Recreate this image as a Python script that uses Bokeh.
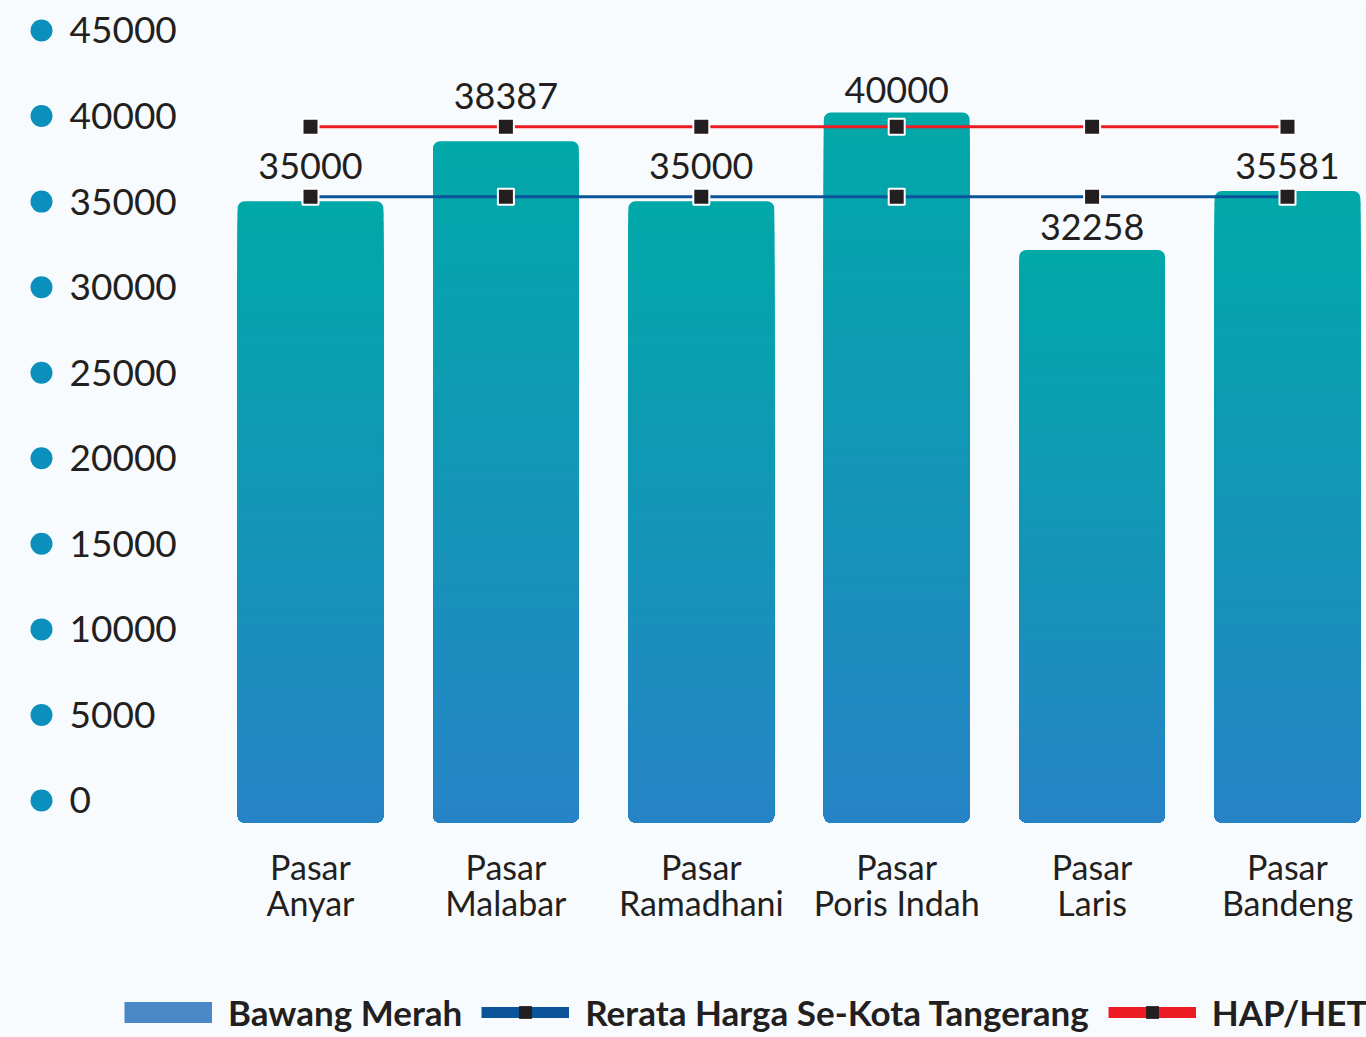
from bokeh.plotting import figure
from bokeh.models import ColumnDataSource, Range1d, Legend, LegendItem
from bokeh.core.properties import value
from bokeh.embed import file_html
from bokeh.resources import INLINE

# ---------------- data ----------------
categories = ["Pasar\nAnyar", "Pasar\nMalabar", "Pasar\nRamadhani",
              "Pasar\nPoris Indah", "Pasar\nLaris", "Pasar\nBandeng"]
bawang_merah = [35000, 38387, 35000, 40000, 32258, 35581]
rerata_kota = [35250, 35250, 35250, 35250, 35250, 35250]
hap_het = [39200, 39200, 39200, 39200, 39200, 39200]
y_ticks = [0, 5000, 10000, 15000, 20000, 25000, 30000, 35000, 40000, 45000]
y_tick_labels = ["0", "5000", "10000", "15000", "20000", "25000",
                 "30000", "35000", "40000", "45000"]

# ---------------- style ----------------
BG = "#f8fbfe"
TXT = "#231f20"
TOP_C = (0, 168, 168)
BOT_C = (38, 132, 198)
BLUE = "#0b5499"
RED = "#ed1c24"
DOT = "#0b8fbd"
FONT = "Lato"
BAR_W = 0.746


def mix(frac):
    r = [round(BOT_C[j] + (TOP_C[j] - BOT_C[j]) * frac) for j in range(3)]
    return "#%02x%02x%02x" % tuple(r)


xs = list(range(len(categories)))

p = figure(width=1366, height=1037,
           x_range=Range1d(-1.5865, 5.4043), y_range=Range1d(-12113, 46310),
           x_axis_location=None, y_axis_location=None,
           toolbar_location=None, output_backend="svg",
           min_border=0, background_fill_color=BG, border_fill_color=BG,
           outline_line_color=None)
for g in p.grid:
    g.visible = False
p.extra_y_ranges = {"ylab": Range1d(-13851, 46753)}

# ---------------- gradient bars ----------------
N = 60
p.vbar(x=xs, top=bawang_merah, bottom=0, width=BAR_W,
       fill_color=mix(1.0), line_color=None, border_radius=7)
sx, stop, scol = [], [], []
for i, v in enumerate(bawang_merah):
    for k in range(N - 1, 0, -1):
        sx.append(i)
        stop.append(v * k / N)
        scol.append(mix((k - 0.5) / N))
p.vbar(source=ColumnDataSource(dict(x=sx, top=stop, c=scol)),
       x="x", top="top", bottom=0, width=BAR_W,
       fill_color="c", line_color=None, border_radius=(0, 0, 7, 7))

# ---------------- lines ----------------
p.line(xs, hap_het, line_color=RED, line_width=3)
p.line(xs, rerata_kota, line_color=BLUE, line_width=3)
p.scatter(xs, hap_het, marker="square", size=16, fill_color=TXT,
          line_color="white", line_width=2)
p.scatter(xs, rerata_kota, marker="square", size=16, fill_color=TXT,
          line_color="white", line_width=2)

# ---------------- bar value labels ----------------
anchors = []
for i, v in enumerate(bawang_merah):
    lifts = [l[i] + 450 for l in (rerata_kota, hap_het) if v - 450 < l[i] < v + 2300]
    anchors.append(max([v] + lifts))
p.text(x=xs, y=anchors, text=[str(v) for v in bawang_merah],
       text_align="center", text_baseline="alphabetic", y_offset=-23,
       text_font=value(FONT), text_font_size="36px", text_color=TXT)

# ---------------- category labels ----------------
p.text(x=xs, y=[0] * len(xs), text=categories, text_align="center",
       text_baseline="middle", y_offset=62, text_line_height=0.9,
       text_font=value(FONT), text_font_size="34px", text_color=TXT)

# ---------------- y tick labels with dots ----------------
p.scatter(x=[-1.3767] * len(y_ticks), y=y_ticks, y_range_name="ylab",
          size=22, fill_color=DOT, line_color=None)
p.text(x=[-1.2334] * len(y_ticks), y=y_ticks, text=y_tick_labels,
       y_range_name="ylab", text_align="left", text_baseline="middle",
       text_font=value(FONT), text_font_size="37px", text_color=TXT)

# ---------------- legend ----------------
nan = float("nan")
lg_bar = p.line([nan], [nan], line_color="#4a88c8", line_width=21)
lg_avg_l = p.line([nan], [nan], line_color=BLUE, line_width=11)
lg_avg_m = p.scatter([nan], [nan], marker="square", size=12, fill_color=TXT, line_color=None)
lg_hap_l = p.line([nan], [nan], line_color=RED, line_width=11)
lg_hap_m = p.scatter([nan], [nan], marker="square", size=12, fill_color=TXT, line_color=None)

legend = Legend(items=[
    LegendItem(label="Bawang Merah", renderers=[lg_bar]),
    LegendItem(label="Rerata Harga Se-Kota Tangerang", renderers=[lg_avg_l, lg_avg_m]),
    LegendItem(label="HAP/HET", renderers=[lg_hap_l, lg_hap_m]),
], location=(124, 4), orientation="horizontal", glyph_width=88, glyph_height=32,
    label_standoff=16, spacing=19, padding=0, margin=0,
    border_line_color=None, background_fill_alpha=0,
    label_text_font=FONT, label_text_font_size="35px",
    label_text_font_style="bold", label_text_color=TXT)
p.add_layout(legend)

open("out.html", "w").write(file_html(p, INLINE))
